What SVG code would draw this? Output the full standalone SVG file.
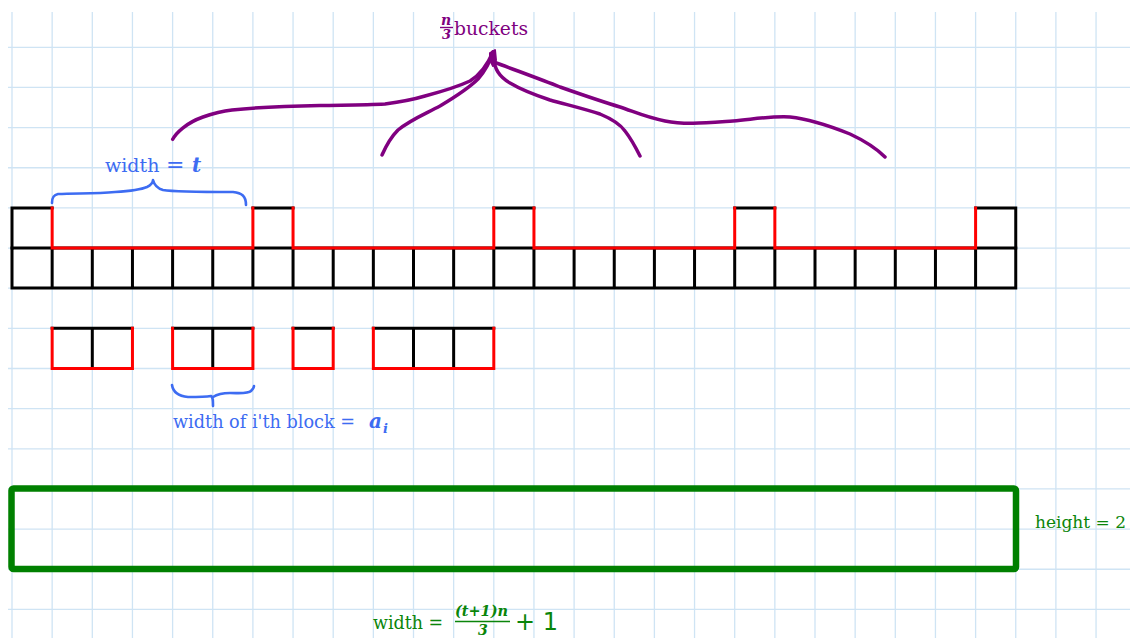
<svg xmlns="http://www.w3.org/2000/svg" width="1130" height="638" viewBox="0 0 1130 638">
<style>
.grid{stroke:#cfe4f4;stroke-width:1.3;fill:none}
.blk{stroke:#000;stroke-width:3;fill:none;stroke-linecap:square}
.red{stroke:#ff0000;stroke-width:3;fill:none;stroke-linecap:square;stroke-linejoin:miter}
.pur{stroke:#800080;stroke-width:3.5;fill:none;stroke-linecap:round;stroke-linejoin:round}
.blu{stroke:#3d6cf2;stroke-width:2.6;fill:none;stroke-linecap:round;stroke-linejoin:round}
.t{font-family:"DejaVu Serif","Liberation Serif",serif;font-size:18px}
.m{font-family:"DejaVu Serif","Liberation Serif",serif;font-style:italic;font-weight:bold}
.tb{fill:#3d6cf2}
.tg{fill:#0a850a}
.tp{fill:#800080}
</style>
<rect width="1130" height="638" fill="#fff"/>
<g id="grid" class="grid">
<path d="M12 12V638M52.15 12V638M92.3 12V638M132.45 12V638M172.6 12V638M212.75 12V638M252.9 12V638M293.05 12V638M333.2 12V638M373.35 12V638M413.5 12V638M453.65 12V638M493.8 12V638M533.95 12V638M574.1 12V638M614.25 12V638M654.4 12V638M694.55 12V638M734.7 12V638M774.85 12V638M815 12V638M855.15 12V638M895.3 12V638M935.45 12V638M975.6 12V638M1015.75 12V638M1055.9 12V638M1096.05 12V638"/>
<path d="M8 47.3H1130M8 87.45H1130M8 127.6H1130M8 167.75H1130M8 207.9H1130M8 248.05H1130M8 288.2H1130M8 328.35H1130M8 368.5H1130M8 408.65H1130M8 448.8H1130M8 488.95H1130M8 529.1H1130M8 569.25H1130M8 609.4H1130"/>
</g>
<g id="array" >
<path class="blk" d="M12 248H1015.75V288H12Z M52.15 248V288M92.3 248V288M132.45 248V288M172.6 248V288M212.75 248V288M252.9 248V288M293.05 248V288M333.2 248V288M373.35 248V288M413.5 248V288M453.65 248V288M493.8 248V288M533.95 248V288M574.1 248V288M614.25 248V288M654.4 248V288M694.55 248V288M734.7 248V288M774.85 248V288M815 248V288M855.15 248V288M895.3 248V288M935.45 248V288M975.6 248V288"/>
<path class="blk" d="M12 248V208H52.15M252.9 208H293.05M493.8 208H533.95M734.7 208H774.85M975.6 208H1015.75V248"/>
<path class="red" d="M52.15 208V248H252.9V208M293.05 208V248H493.8V208M533.95 208V248H734.7V208M774.85 208V248H975.6V208"/>
</g>
<g id="blocks">
<path class="blk" d="M52.15 328.35H132.45M92.3 328.35V368.5M172.6 328.35H252.9M212.75 328.35V368.5M293.05 328.35H333.2M373.35 328.35H493.8M413.5 328.35V368.5M453.65 328.35V368.5"/>
<path class="red" d="M52.15 328.35V368.5H132.45V328.35M172.6 328.35V368.5H252.9V328.35M293.05 328.35V368.5H333.2V328.35M373.35 328.35V368.5H493.8V328.35"/>
</g>
<g id="bigbox">
<rect x="11.5" y="488.5" width="1004.5" height="80.5" rx="2" fill="none" stroke="#008000" stroke-width="6.5" stroke-linejoin="round"/>
</g>
<g id="connectors">
<path class="pur" d="M172.7 139.3C176 133 186 123 203 117C214 113 222 111 232 110C260 107 290 106 320 105.5C345 105 365 105 385 104C400 102 415 99 425 96C440 92 455 88 470 81C480 75 487 66 493 52"/>
<path class="pur" d="M382 155C386 146 390 138 398 130C410 120 425 114 440 106C455 97 468 89 478 79C486 70 490 62 493 52"/>
<path class="pur" d="M494 58C494 68 498 76 510 83C520 89 535 95 550 100C568 105 585 109 600 114C612 119 620 124 625 131C632 140 636 148 640 156"/>
<path class="pur" d="M494 62C515 70 540 79 560 87C580 94 600 101 620 107C635 112 645 117 665 121C685 125 705 123 733 121C755 119 770 116 790 117C810 119 830 126 850 134C865 141 876 148 885 157"/>
<path d="M490 53L495 50L496 60L493 66L490 60Z" fill="#800080" stroke="#800080" stroke-width="2" stroke-linejoin="round"/>
<path class="blu" d="M52 203C52 198 53 195 58 194C75 193 95 194 115 192C130 191 140 190 147 187C151 185 153 183 153 180C154 184 156 188 163 190C175 192 205 192 233 192C242 193 246 196 246 205"/>
<path class="blu" d="M172 385C173 392 178 396 188 397C198 397 205 397 211 396C213 397 213 400 213 406M213 397C216 395 222 393 230 393C240 393 248 394 251 391C253 389 254 387 254 386"/>
</g>
<g id="labels">
<text class="t tb" x="105" y="172" style="font-size:19px">width</text>
<text class="t tb" x="166" y="172" style="font-size:22px">=</text>
<text class="m tb" x="192" y="172" style="font-size:20px">t</text>
<text class="t tb" x="173" y="428" textLength="182" lengthAdjust="spacingAndGlyphs">width of i'th block =</text>
<text class="m tb" x="369" y="428" style="font-size:20px">a</text>
<text class="m tb" x="383" y="433" style="font-size:13px">i</text>
<text class="m tp" x="441" y="25" style="font-size:14px">n</text>
<line x1="440" y1="27.5" x2="453" y2="27.5" stroke="#800080" stroke-width="1.4"/>
<text class="m tp" x="442" y="39" style="font-size:13px">3</text>
<text class="t tp" x="454" y="35" textLength="74" lengthAdjust="spacingAndGlyphs" style="font-size:19px">buckets</text>
<text class="t tg" x="1035" y="528" style="font-size:17px">height = 2</text>
<text class="t tg" x="373" y="629" textLength="70" lengthAdjust="spacingAndGlyphs" style="font-size:19px">width =</text>
<text class="m tg" x="455" y="616" style="font-size:14px" textLength="53" lengthAdjust="spacingAndGlyphs">(t+1)n</text>
<line x1="455" y1="621.5" x2="510" y2="621.5" stroke="#0a850a" stroke-width="1.5"/>
<text class="m tg" x="478" y="635" style="font-size:14px">3</text>
<text x="515" y="630" style="font-family:'DejaVu Sans','Liberation Sans',sans-serif;font-size:24px" class="tg">+ 1</text>
</g>
</svg>
